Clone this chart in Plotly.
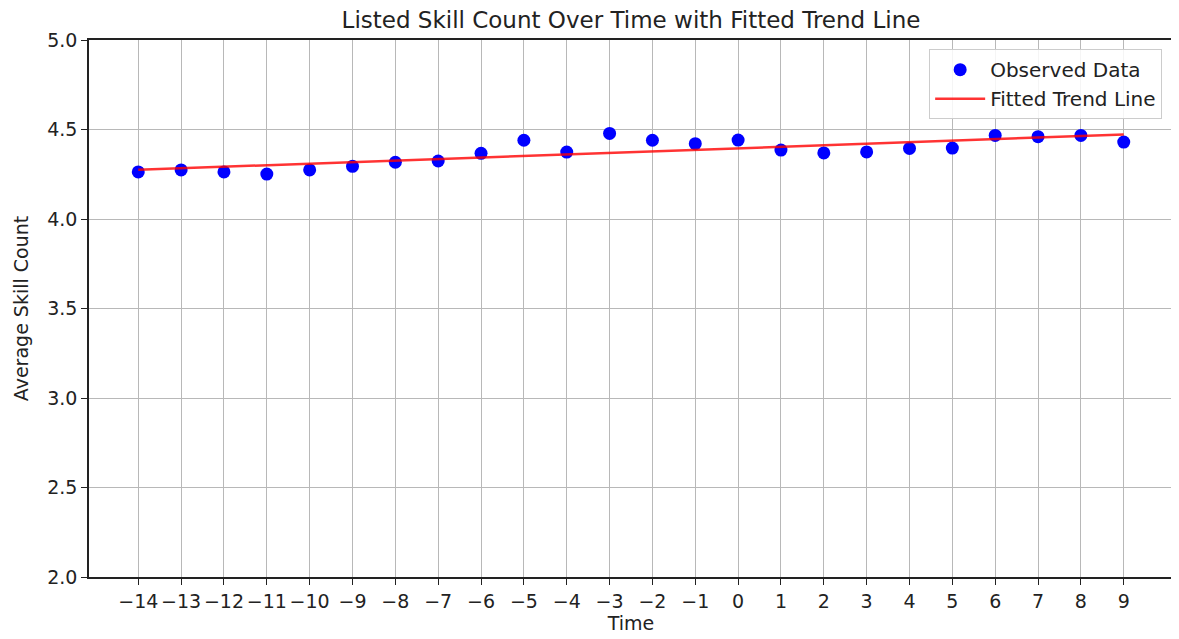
import numpy as np
import plotly.graph_objects as go

time = list(range(-14, 10))
avg_skill = [4.263, 4.274, 4.263, 4.251, 4.274, 4.294, 4.317, 4.324, 4.367, 4.440,
             4.374, 4.478, 4.440, 4.421, 4.441, 4.385, 4.369, 4.375, 4.394, 4.396,
             4.467, 4.460, 4.467, 4.430]
x_ticks = list(range(-14, 10))
x_tick_text = [str(v).replace("-", "\u2212") for v in x_ticks]
y_ticks = [2.0, 2.5, 3.0, 3.5, 4.0, 4.5, 5.0]
y_tick_text = ["2.0", "2.5", "3.0", "3.5", "4.0", "4.5", "5.0"]

slope, intercept = np.polyfit(time, avg_skill, 1)
trend = [intercept + slope * t for t in time]

FONT = "DejaVu Sans"
W, H = 1171, 631  # page body has an 8px default margin

fig = go.Figure()
fig.add_trace(go.Scatter(
    x=time, y=avg_skill, mode="markers", name="Observed Data",
    marker=dict(color="#0000ff", size=13, line=dict(width=0)),
))
fig.add_trace(go.Scatter(
    x=time, y=trend, mode="lines", name="Fitted Trend Line",
    line=dict(color="rgba(255,0,0,0.8)", width=2.5),
))

axis_common = dict(
    showline=True, linecolor="#222222", linewidth=1.5, mirror=True,
    ticks="outside", ticklen=6, tickwidth=1.2, tickcolor="#222222",
    showgrid=True, gridcolor="#b8b8b8", gridwidth=1.3,
    zeroline=False, automargin=False,
    tickfont=dict(family=FONT, size=19, color="#222222"),
)

fig.update_layout(
    width=W, height=H,
    margin=dict(l=81, r=6, t=32, b=62),
    paper_bgcolor="white", plot_bgcolor="white",
    font=dict(family=FONT, color="#222222"),
    title=dict(text="Listed Skill Count Over Time with Fitted Trend Line",
               x=623 / W, xanchor="center",
               y=1 - 12 / H, yanchor="middle",
               font=dict(family=FONT, size=23, color="#222222")),
    xaxis=dict(range=[-15.15, 10.15], tickvals=x_ticks, ticktext=x_tick_text,
               title=dict(text="Time", font=dict(family=FONT, size=19), standoff=4),
               **axis_common),
    yaxis=dict(range=[2.0, 5.0], tickvals=y_ticks, ticktext=y_tick_text,
               title=dict(text="Average Skill Count", font=dict(family=FONT, size=19), standoff=14),
               **axis_common),
    legend=dict(x=0.99, y=0.983, xanchor="right", yanchor="top",
                bgcolor="rgba(255,255,255,0.85)", bordercolor="#cccccc", borderwidth=1,
                itemwidth=50,
                font=dict(family=FONT, size=20, color="#222222")),
    showlegend=True,
)

fig.write_html("out.html")
